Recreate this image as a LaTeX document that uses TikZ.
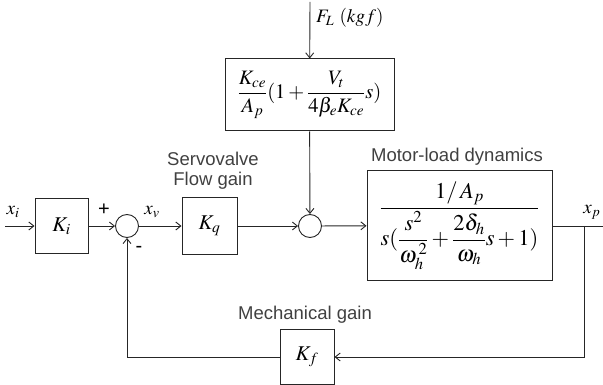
\documentclass[tikz,border=0pt]{standalone}
\usepackage{amsmath}
\usepackage{mathptmx}
\usepackage[no-math]{fontspec}
\setmainfont{Liberation Sans}
\usetikzlibrary{arrows.meta}
\begin{document}
\begin{tikzpicture}[x=1pt,y=-1pt,
  ln/.style={draw=black!85, line width=0.9pt},
  blk/.style={draw=black!85, rectangle, inner sep=0pt, line width=1pt, font=\fontsize{21}{24}\selectfont},
  sumc/.style={draw=black!85, circle, minimum size=23pt, inner sep=0pt, line width=0.9pt},
  lbl/.style={font=\fontsize{18.5}{22}\selectfont, text=black!75, inner sep=0pt},
  sgn/.style={font=\fontsize{20}{22}\selectfont, inner sep=0pt},
  mlbl/.style={font=\fontsize{19}{22}\selectfont, inner sep=0pt},
  arr/.style={ln, -{Straight Barb[length=5pt,width=8pt]}}]
\useasboundingbox (0,0) rectangle (603,385);
% blocks
\node[blk, minimum width=53pt, minimum height=55pt] (ki) at (61.5,226) {$K_i$};
\node[sumc] (s1) at (127,226) {};
\node[blk, minimum width=55pt, minimum height=56pt] (kq) at (209.5,226) {$K_q$};
\node[sumc] (s2) at (310,226) {};
\node[blk, minimum width=169pt, minimum height=72pt, font=\fontsize{20.5}{24}\selectfont] (fb) at (309.5,95)
  {$\dfrac{K_{ce}}{A_p}(1+\dfrac{V_t}{4\beta_e K_{ce}}s)$};
\node[blk, minimum width=185pt, minimum height=109pt, font=\fontsize{22.5}{26}\selectfont] (mb) at (459.5,225.5)
  {$\dfrac{1/\,A_p}{s(\dfrac{s^2}{\omega_h^{\,2}}+\dfrac{2\delta_h}{\omega_h}s+1)}$};
\node[blk, minimum width=54pt, minimum height=55pt] (kf) at (307,356.5) {$K_f$};
% helper coordinates
\coordinate (in) at (5,226);
\coordinate (fl) at (310,2);
\coordinate (br) at (584,226);
\coordinate (out) at (603,226);
\coordinate (bb) at (584,357);
% connectors
\draw[arr] (in) -- (ki);
\draw[arr] (ki) -- (s1);
\draw[arr] (s1) -- (kq);
\draw[arr] (kq) -- (s2);
\draw[arr] (s2) -- (mb);
\draw[arr] (fl) -- (fb);
\draw[arr] (fb) -- (s2);
\draw[ln] (mb.east |- out) -- (out);
\draw[arr] (br) -- (bb) -- (kf.east |- bb);
\draw[arr] (kf.west |- bb) -| (s1.south);
% labels
\node[mlbl] (lxi) at (13,212) {$x_i$};
\node[sgn] (lplus) at (104,210) {+};
\node[sgn] (lminus) at (139,249) {-};
\node[mlbl] (lxv) at (152,212) {$x_v$};
\node[mlbl] (lxp) at (592,212) {$x_p$};
\node[mlbl, anchor=west] (lfl) at (316,18) {$F_L\ (kgf)$};
\node[lbl] (lsv) at (213,159) {Servovalve};
\node[lbl] (lfg) at (213,181) {Flow gain};
\node[lbl] (lmd) at (457,157) {Motor-load dynamics};
\node[lbl] (lmg) at (305,315) {Mechanical gain};
\end{tikzpicture}
\end{document}
